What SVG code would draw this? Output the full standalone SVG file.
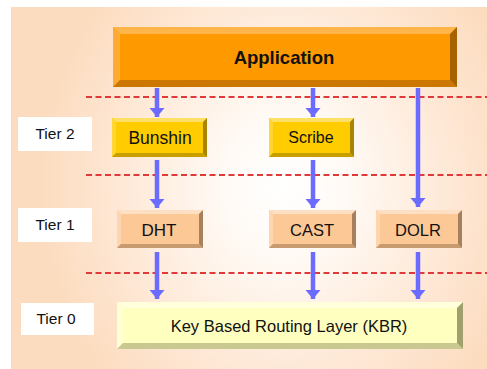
<svg xmlns="http://www.w3.org/2000/svg" width="487" height="369" viewBox="0 0 487 369">
  <style>
    .lbl { font-family: "Liberation Sans", Arial, sans-serif; fill: #111; text-anchor: middle; }
    .tier rect { fill: #ffffff; }
    .tier text { font-size: 15.5px; }
    .sep { stroke: #e0393a; stroke-width: 2; stroke-dasharray: 6 3.5; fill: none; }
    .arr { stroke: #6b6bff; stroke-width: 4.5; fill: none; marker-end: url(#head); }
  </style>
  <defs>
    <radialGradient id="bg" gradientUnits="userSpaceOnUse" cx="285" cy="185" r="245" gradientTransform="translate(285 185) scale(1 1.15) translate(-285 -185)">
      <stop offset="0" stop-color="#ffffff"/>
      <stop offset="0.25" stop-color="#fffaf5"/>
      <stop offset="0.7" stop-color="#fee7d4"/>
      <stop offset="1" stop-color="#fcdcbf"/>
    </radialGradient>
    <marker id="head" markerUnits="userSpaceOnUse" markerWidth="10" markerHeight="16" refX="9" refY="7.5" orient="auto" viewBox="0 0 10 15">
      <path d="M0,0 L9,7.5 L0,15 z" fill="#6b6bff"/>
    </marker>
  </defs>

  <!-- backdrop panel -->
  <rect x="11" y="7" width="476" height="362" fill="url(#bg)"/>

  <!-- tier separators -->
  <g id="separators">
    <line class="sep" x1="86" y1="97" x2="487" y2="97"/>
    <line class="sep" x1="86" y1="175" x2="487" y2="175"/>
    <line class="sep" x1="86" y1="273" x2="487" y2="273"/>
  </g>

  <!-- tier labels -->
  <g id="tier2" class="tier">
    <rect x="18" y="117" width="74" height="34"/>
    <text class="lbl" x="55" y="139">Tier 2</text>
  </g>
  <g id="tier1" class="tier">
    <rect x="18" y="208" width="74" height="34"/>
    <text class="lbl" x="55" y="230">Tier 1</text>
  </g>
  <g id="tier0" class="tier">
    <rect x="21" y="303" width="73" height="32"/>
    <text class="lbl" x="56" y="324">Tier 0</text>
  </g>

  <!-- Application: bevelled block, x=113 y=27 w=344 h=60 b=7 -->
  <g id="application">
    <rect x="113" y="27" width="344" height="60" fill="#ff9900"/>
    <polygon points="113,27 457,27 450,34 120,34" fill="#ffb54a"/>
    <polygon points="113,27 120,34 120,80 113,87" fill="#ffaa33"/>
    <polygon points="113,87 120,80 450,80 457,87" fill="#cc7700"/>
    <polygon points="457,27 457,87 450,80 450,34" fill="#a66200"/>
    <text class="lbl" x="284" y="64" font-size="18.5" font-weight="bold">Application</text>
  </g>

  <!-- Tier 2 services -->
  <g id="bunshin">
    <rect x="112" y="118" width="95" height="39" fill="#ffcc00"/>
    <polygon points="112,118 207,118 203,122 116,122" fill="#ffe066"/>
    <polygon points="112,118 116,122 116,153 112,157" fill="#ffd633"/>
    <polygon points="112,157 116,153 203,153 207,157" fill="#c99f00"/>
    <polygon points="207,118 207,157 203,153 203,122" fill="#a88400"/>
    <text class="lbl" x="160" y="144" font-size="17.5">Bunshin</text>
  </g>
  <g id="scribe">
    <rect x="269" y="118" width="85" height="39" fill="#ffcc00"/>
    <polygon points="269,118 354,118 350,122 273,122" fill="#ffe066"/>
    <polygon points="269,118 273,122 273,153 269,157" fill="#ffd633"/>
    <polygon points="269,157 273,153 350,153 354,157" fill="#c99f00"/>
    <polygon points="354,118 354,157 350,153 350,122" fill="#a88400"/>
    <text class="lbl" x="311" y="143" font-size="16">Scribe</text>
  </g>

  <!-- Tier 1 services -->
  <g id="dht">
    <rect x="117" y="210" width="86" height="38" fill="#fcc896"/>
    <polygon points="117,210 203,210 199,214 121,214" fill="#fde0c4"/>
    <polygon points="117,210 121,214 121,244 117,248" fill="#fdd6b0"/>
    <polygon points="117,248 121,244 199,244 203,248" fill="#c89a70"/>
    <polygon points="203,210 203,248 199,244 199,214" fill="#a8805c"/>
    <text class="lbl" x="159" y="236" font-size="17">DHT</text>
  </g>
  <g id="cast">
    <rect x="269" y="210" width="87" height="38" fill="#fcc896"/>
    <polygon points="269,210 356,210 352,214 273,214" fill="#fde0c4"/>
    <polygon points="269,210 273,214 273,244 269,248" fill="#fdd6b0"/>
    <polygon points="269,248 273,244 352,244 356,248" fill="#c89a70"/>
    <polygon points="356,210 356,248 352,244 352,214" fill="#a8805c"/>
    <text class="lbl" x="312" y="236" font-size="16.5">CAST</text>
  </g>
  <g id="dolr">
    <rect x="376" y="210" width="86" height="38" fill="#fcc896"/>
    <polygon points="376,210 462,210 458,214 380,214" fill="#fde0c4"/>
    <polygon points="376,210 380,214 380,244 376,248" fill="#fdd6b0"/>
    <polygon points="376,248 380,244 458,244 462,248" fill="#c89a70"/>
    <polygon points="462,210 462,248 458,244 458,214" fill="#a8805c"/>
    <text class="lbl" x="418" y="236" font-size="16.5">DOLR</text>
  </g>

  <!-- Tier 0 routing layer -->
  <g id="kbr">
    <rect x="117" y="302" width="346" height="47" fill="#ffffc0"/>
    <polygon points="117,302 463,302 457,308 123,308" fill="#ffffdc"/>
    <polygon points="117,302 123,308 123,343 117,349" fill="#ffffd2"/>
    <polygon points="117,349 123,343 457,343 463,349" fill="#c8c890"/>
    <polygon points="463,302 463,349 457,343 457,308" fill="#a0a06c"/>
    <text class="lbl" x="289" y="332" font-size="16.5">Key Based Routing Layer (KBR)</text>
  </g>

  <!-- connectors -->
  <g id="connectors">
    <line class="arr" x1="157" y1="88" x2="157" y2="117"/>
    <line class="arr" x1="313" y1="88" x2="313" y2="117"/>
    <line class="arr" x1="418" y1="88" x2="418" y2="207"/>
    <line class="arr" x1="157" y1="160" x2="157" y2="208"/>
    <line class="arr" x1="313" y1="160" x2="313" y2="208"/>
    <line class="arr" x1="157" y1="252" x2="157" y2="299"/>
    <line class="arr" x1="313" y1="252" x2="313" y2="299"/>
    <line class="arr" x1="418" y1="252" x2="418" y2="299"/>
  </g>
</svg>
